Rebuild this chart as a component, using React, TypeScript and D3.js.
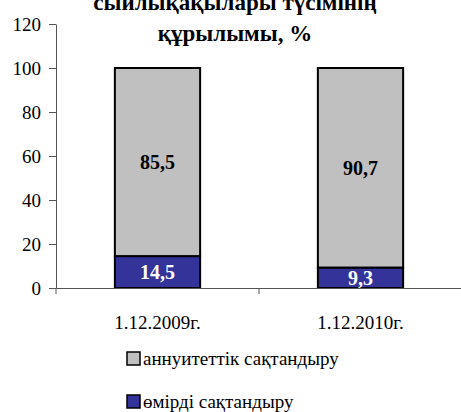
import React, { useEffect, useRef } from "react";
import * as d3 from "d3";

const categories = ["1.12.2009г.", "1.12.2010г."];
const seriesNames = ["аннуитеттік сақтандыру", "өмірді сақтандыру"];
const lifeValues = [14.5, 9.3];
const annuityValues = [85.5, 90.7];
const yTicks = [0, 20, 40, 60, 80, 100, 120];
const titleLines = ["сыйлықақылары түсімінің", "құрылымы, %"];

const W = 461;
const H = 412;
const FONT = "Liberation Serif";
const GREY = "#C0C0C0";
const BLUE = "#333399";

export default function App() {
    const ref = useRef<SVGSVGElement | null>(null);

    useEffect(() => {
        if (!ref.current) return;
        const svg = d3.select(ref.current);
        svg.selectAll("*").remove();

        const x = d3.scaleBand<string>().domain(categories).range([56, 462]).padding(0);
        const y = d3.scaleLinear().domain([0, 120]).range([288, 24]);
        const barW = x.bandwidth() * 0.42;

        // title (first line is cut by the top edge, as in the source)
        svg.append("text")
            .attr("text-anchor", "middle")
            .attr("font-family", FONT)
            .attr("font-size", 23)
            .attr("font-weight", 700)
            .selectAll("tspan")
            .data(titleLines)
            .enter()
            .append("tspan")
            .attr("x", 235)
            .attr("y", (_, i) => 10 + i * 31)
            .text((d) => d);

        // stacks
        const rows = categories.map((c, i) => ({ cat: c, life: lifeValues[i], annuity: annuityValues[i] }));
        const layers = d3.stack<any>().keys(["life", "annuity"])(rows);
        const colors = [BLUE, GREY];
        const labelColors = ["#fff", "#000"];
        const seriesVals = [lifeValues, annuityValues];

        layers.forEach((layer, li) => {
            svg.append("g")
                .selectAll("rect")
                .data(layer)
                .enter()
                .append("rect")
                .attr("x", (d) => x(d.data.cat)! + (x.bandwidth() - barW) / 2)
                .attr("y", (d) => y(d[1]))
                .attr("width", barW)
                .attr("height", (d) => y(d[0]) - y(d[1]))
                .attr("fill", colors[li])
                .attr("stroke", "#000")
                .attr("stroke-width", 2);
        });

        layers.forEach((layer, li) => {
            svg.append("g")
                .selectAll("text")
                .data(layer)
                .enter()
                .append("text")
                .attr("x", (d) => x(d.data.cat)! + x.bandwidth() / 2)
                .attr("y", (d) => (y(d[0]) + y(d[1])) / 2)
                .attr("dy", "0.35em")
                .attr("text-anchor", "middle")
                .attr("font-family", FONT)
                .attr("font-size", 20)
                .attr("font-weight", 700)
                .attr("fill", labelColors[li])
                .text((_, i) => String(seriesVals[li][i]).replace(".", ","));
        });

        // y axis
        const yAxis = svg.append("g")
            .attr("transform", "translate(56,0)")
            .call(d3.axisLeft(y).tickValues(yTicks).tickSize(7).tickSizeOuter(0).tickPadding(8));
        yAxis.attr("font-family", FONT).attr("font-size", 19);
        yAxis.selectAll("path, line").attr("stroke", "#555");
        yAxis.selectAll("text").attr("fill", "#000");

        // x axis
        const xAxis = svg.append("g")
            .attr("transform", `translate(0,${y(0)})`)
            .call(d3.axisBottom(x).tickSize(0).tickPadding(28));
        xAxis.attr("font-family", FONT).attr("font-size", 19);
        xAxis.select("path").attr("stroke", "#555");
        xAxis.selectAll("text").attr("fill", "#000");
        const bounds = [56, ...categories.map((c) => x(c)! + x.bandwidth())];
        xAxis.selectAll("line.sep")
            .data(bounds)
            .enter()
            .append("line")
            .attr("class", "sep")
            .attr("x1", (d) => d)
            .attr("x2", (d) => d)
            .attr("y1", 0)
            .attr("y2", 6)
            .attr("stroke", "#555");

        // legend
        const legendColors = [GREY, BLUE];
        const lg = svg.append("g")
            .attr("font-family", FONT)
            .attr("font-size", 19)
            .selectAll("g")
            .data(seriesNames)
            .enter()
            .append("g")
            .attr("transform", (_, i) => `translate(127,${352 + i * 43})`);
        lg.append("rect")
            .attr("width", 13)
            .attr("height", 13)
            .attr("fill", (_, i) => legendColors[i])
            .attr("stroke", "#000")
            .attr("stroke-width", 1.5);
        lg.append("text")
            .attr("x", 16)
            .attr("y", 13)
            .text((d) => d);
    }, []);

    return (
        <svg
            ref={ref}
            width={W}
            height={H}
            style={{ position: "absolute", left: 0, top: 0, background: "#fff" }}
        />
    );
}
